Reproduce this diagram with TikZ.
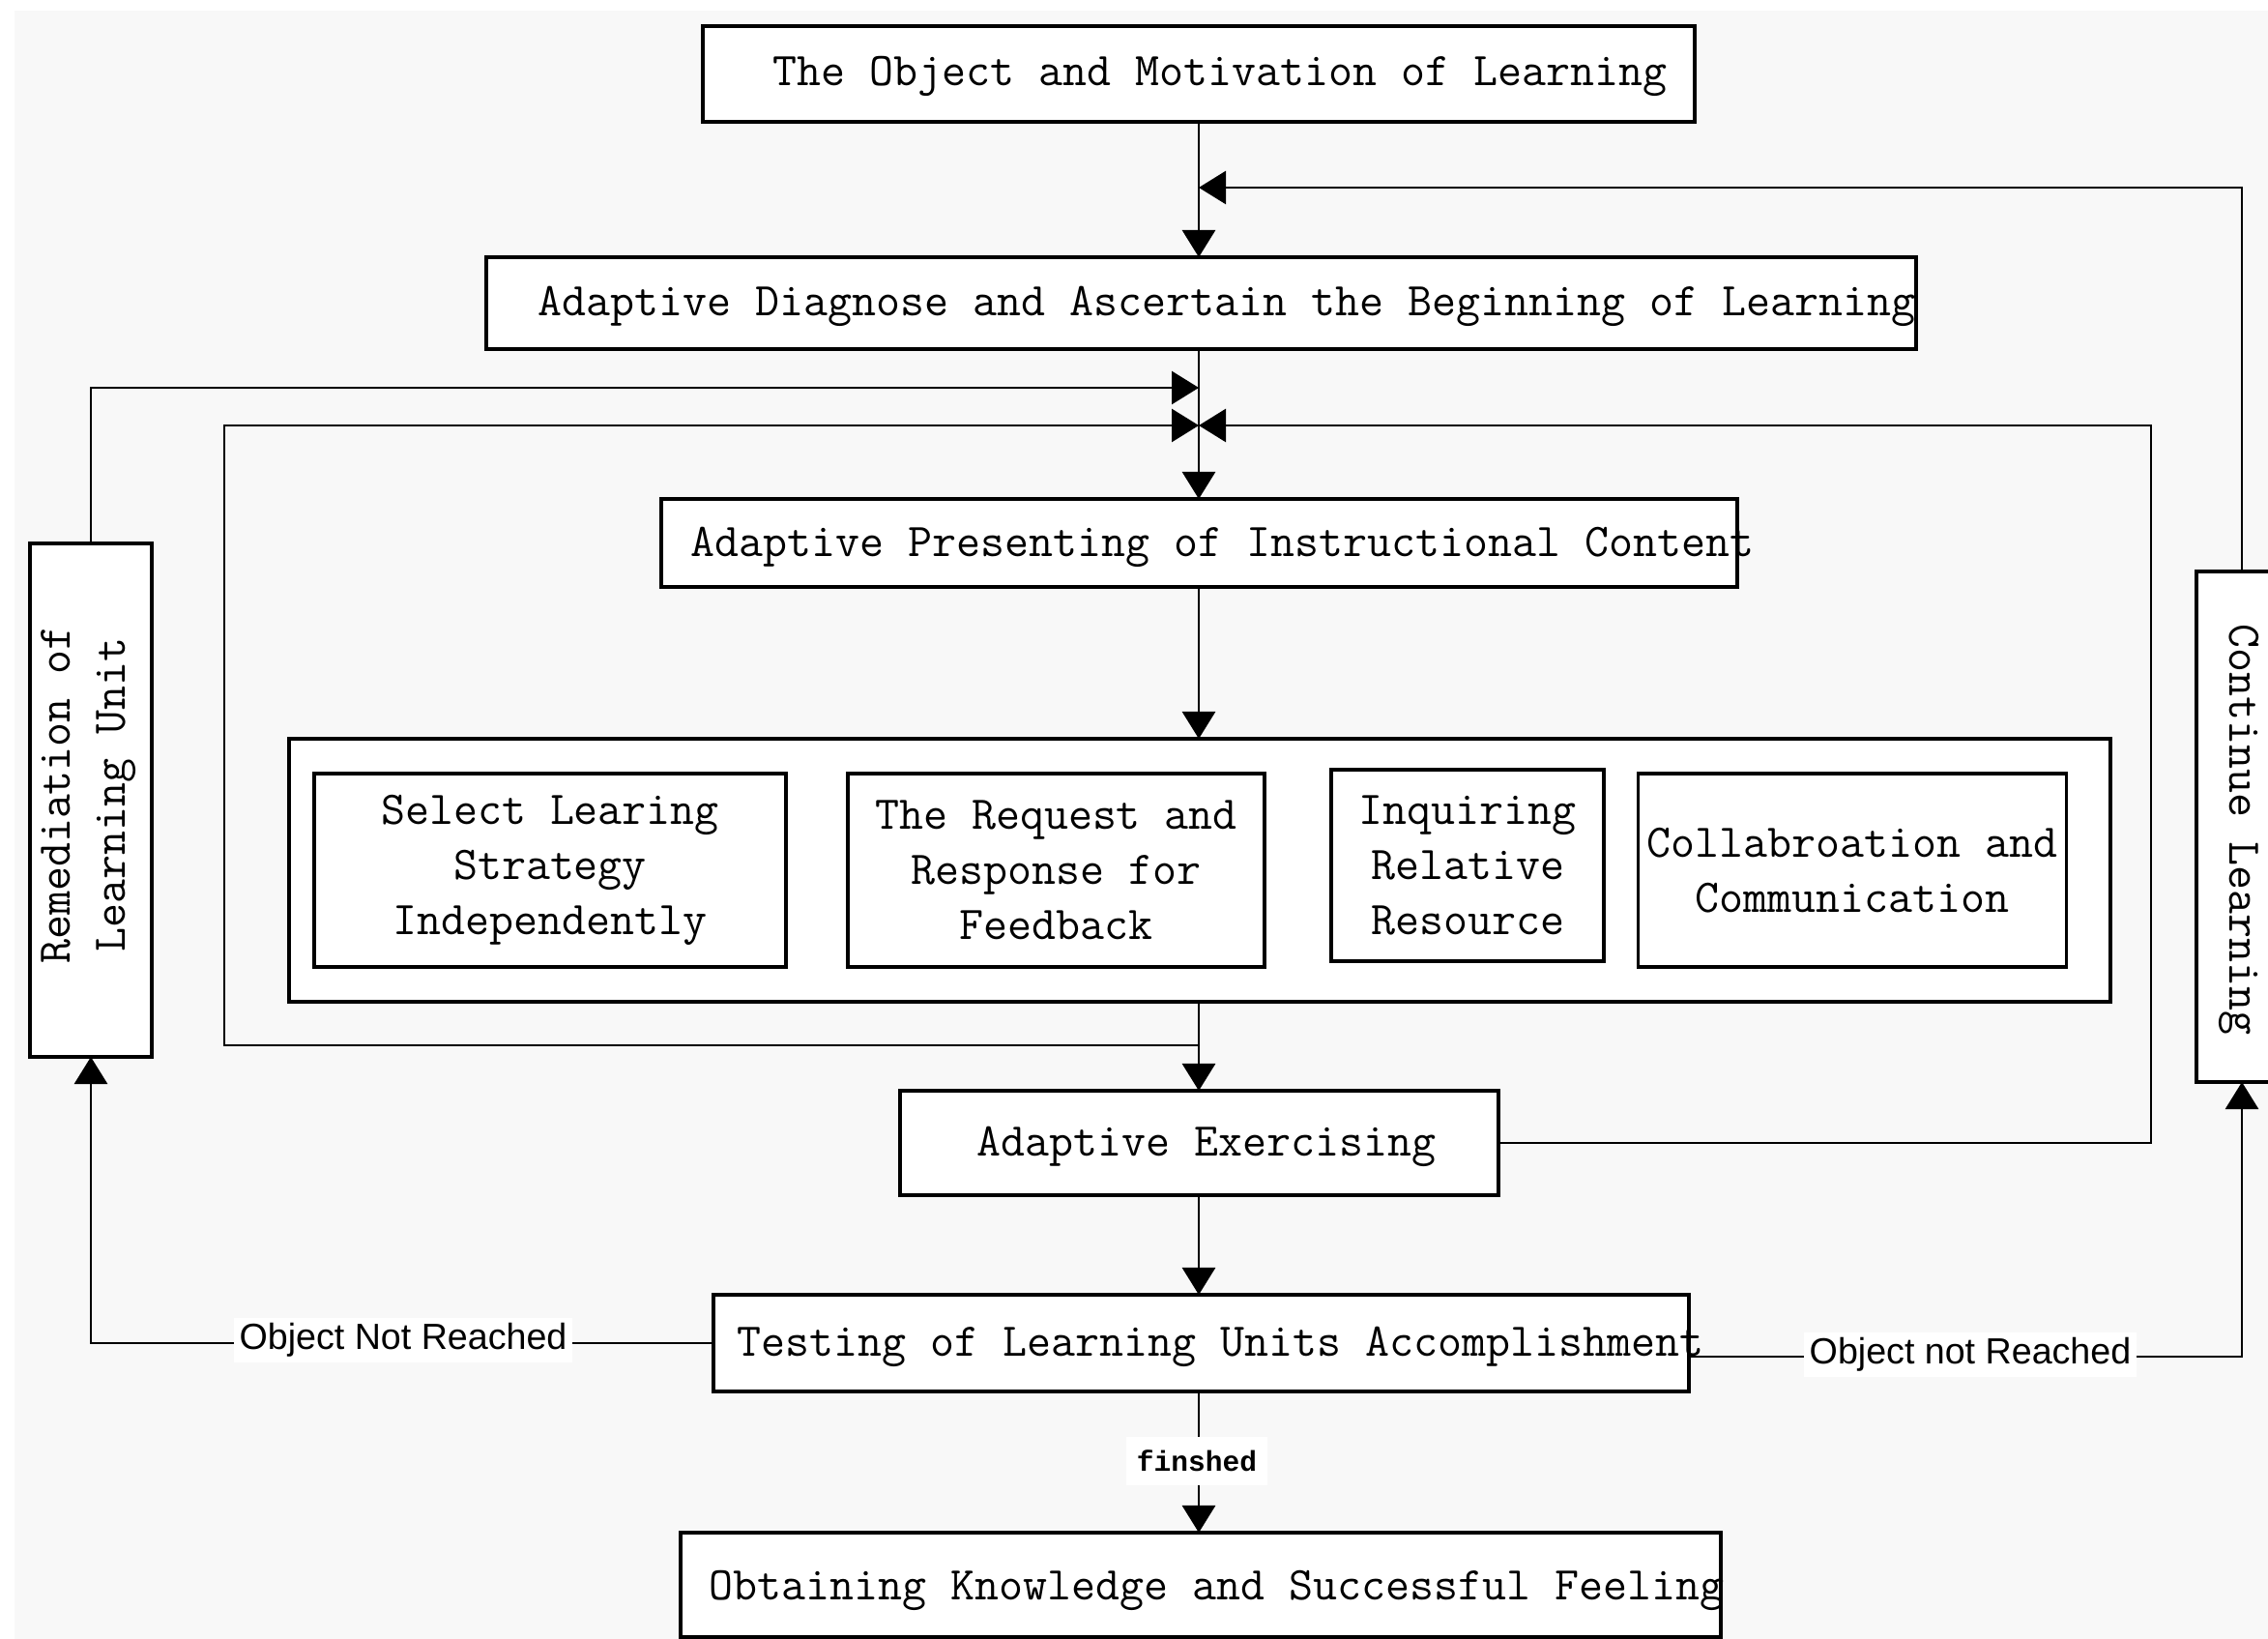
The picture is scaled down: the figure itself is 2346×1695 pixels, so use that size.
\documentclass[tikz,border=0pt]{standalone}
\usepackage{fontspec}
\newfontfamily\monof{Latin Modern Mono}
\newfontfamily\bmonof{Liberation Mono}
\newfontfamily\sansf{Liberation Sans}
\usetikzlibrary{arrows.meta,calc}
\definecolor{bgray}{RGB}{248,248,248}
\tikzset{
  sz/.style 2 args={minimum width=#1*0.01cm, minimum height=#2*0.01cm},
  box/.style={draw=black, line width=0.95pt, fill=white, inner sep=0pt, outer sep=0pt},
  mtxt/.style={font=\monof\fontsize{13.8pt}{16.2pt}\selectfont, inner sep=0pt},
  stxt/.style={font=\monof\fontsize{13.8pt}{16.2pt}\selectfont, align=center},
  arr/.style={-{Triangle[width=0.34cm,length=0.28cm]}, line width=0.8pt},
  lab/.style={font=\sansf\fontsize{10.7pt}{12pt}\selectfont, fill=white, inner sep=1.5pt},
  flab/.style={font=\bmonof\bfseries\fontsize{8.4pt}{10pt}\selectfont, fill=white, inner xsep=3pt, inner ysep=4pt}
}
\begin{document}
\begin{tikzpicture}[x=0.01cm,y=-0.01cm]
\useasboundingbox (0,0) rectangle (2346,1695);
\clip (0,0) rectangle (2346,1695);
\fill[white] (0,0) rectangle (2346,1695);
\fill[bgray] (15,11) rectangle (2346,1695);

% boxes
\node[box, sz={1026}{99}] (obj) at (1240,76.5) {};
\node[box, sz={1479}{95}] (diag) at (1242.5,313.5) {};
\node[box, sz={1113}{91}] (pres) at (1240.5,561.5) {};
\node[box, sz={1884}{272}] (grp) at (1241,900) {};
\node[box, stxt, sz={488}{200}] (sel) at (569,900) {Select Learing\\Strategy\\Independently};
\node[box, stxt, sz={431}{200}] (req) at (1092.5,900) {The Request and\\Response for\\Feedback};
\node[box, stxt, sz={282}{198}] (inq) at (1518,895) {Inquiring\\Relative\\Resource};
\node[box, stxt, sz={443}{200}] (col) at (1916,900) {Collabroation and\\Communication};
\node[box, sz={619}{108}] (ex) at (1240.5,1182) {};
\node[box, sz={1009}{100}] (test) at (1242.5,1389) {};
\node[box, sz={1076}{108}] (obt) at (1242,1639) {};
\node[box, sz={126}{531}] (rem) at (94,827.5) {};
\node[box, sz={94}{528}] (cont) at (2319,855) {};

% box texts
\node[mtxt, anchor=base west] (objt) at (799,89) {The Object and Motivation of Learning};
\node[mtxt, anchor=base west] (diagt) at (556,327) {Adaptive Diagnose and Ascertain the Beginning of Learning};
\node[mtxt, anchor=base west] (prest) at (714,576) {Adaptive Presenting of Instructional Content};
\node[mtxt, anchor=base west] (ext) at (1010,1195) {Adaptive Exercising};
\node[mtxt, anchor=base west] (testt) at (762,1402) {Testing of Learning Units Accomplishment};
\node[mtxt, anchor=base west] (obtt) at (733,1654) {Obtaining Knowledge and Successful Feeling};
\node[stxt, inner sep=0pt, rotate=90] (remt) at (92,822) {Remediation of\\Learning Unit};
\node[mtxt, rotate=-90] (contt) at (2316,858) {Continue Learning};

% junction coordinates
\coordinate (j1) at (1240,194);
\coordinate (j2) at (1240,401);
\coordinate (j3) at (1240,440);
\coordinate (j4) at (1240,1081);
\coordinate (rc) at (2225,440);
\coordinate (lc) at (232,440);

% connectors
\draw[arr] (obj.south -| j1) -- (diag.north -| j1);
\draw[arr] (cont.north) |- (j1);
\draw[arr] (diag.south -| j1) -- (pres.north -| j1);
\draw[arr] (rem.north) |- (j2);
\draw[arr] (ex.east) -| (rc) -- (j3);
\draw[arr] (j4) -| (lc) -- (j3);
\draw[arr] (pres.south -| j1) -- (grp.north -| j1);
\draw[arr] (grp.south -| j1) -- (ex.north -| j1);
\draw[arr] (ex.south -| j1) -- (test.north -| j1);
\draw[arr] (test.west) -| (rem.south);
\draw[arr] ([yshift=-0.14cm]test.east) -| (cont.south);
\draw[arr] (test.south -| j1) -- (obt.north -| j1);

% labels
\node[lab] (l1) at (417,1386) {Object Not Reached};
\node[lab] (l2) at (2038,1401) {Object not Reached};
\node[flab] (l3) at (1238,1511) {finshed};
\end{tikzpicture}
\end{document}
